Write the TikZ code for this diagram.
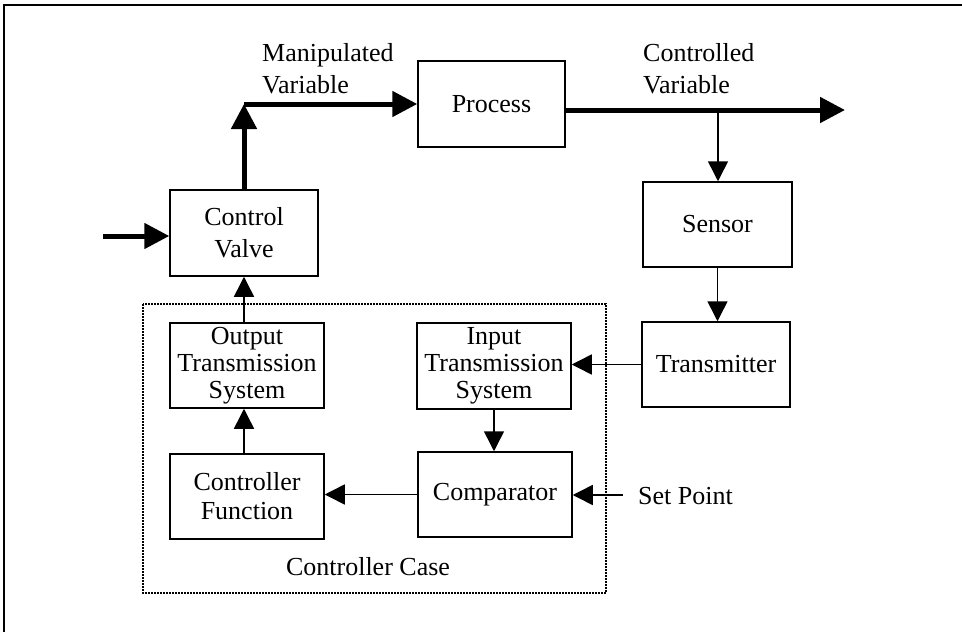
\documentclass[tikz,border=0pt]{standalone}
\usepackage{fontspec}
\setmainfont{Liberation Serif}
\usetikzlibrary{arrows.meta}
\begin{document}
\begin{tikzpicture}[x=1pt,y=-1pt,
  box/.style={draw,line width=1.5pt,inner sep=0pt,align=center,
    font=\fontsize{26}{32}\selectfont},
  thinarrow/.style={line width=1.5pt,-{Triangle[length=20pt,width=20pt]}},
  thickarrow/.style={line width=5pt,-{Triangle[length=25pt,width=25pt]}},
  lbl/.style={inner sep=0pt,font=\fontsize{26}{32}\selectfont}]
\useasboundingbox (0,0) rectangle (962,632);
\draw[line width=2.4pt] (4,640) -- (4,5) -- (970,5);

% blocks
\node[box,minimum width=148pt,minimum height=86pt] (valve) at (244,233) {Control\\Valve};
\node[box,minimum width=147pt,minimum height=86pt] (process) at (491.5,104) {Process};
\node[box,minimum width=149pt,minimum height=85pt] (sensor) at (717.5,224.5) {Sensor};
\node[box,minimum width=148pt,minimum height=85pt] (trans) at (716,364.5) {Transmitter};
\node[box,minimum width=154pt,minimum height=86pt,font=\fontsize{26}{27}\selectfont] (its) at (494,366) {Input\\Transmission\\System};
\node[box,minimum width=154pt,minimum height=85pt] (comp) at (495,494.5) {Comparator};
\node[box,minimum width=154pt,minimum height=85pt,font=\fontsize{26}{27}\selectfont] (ots) at (247,365.5) {Output\\Transmission\\System};
\node[box,minimum width=154pt,minimum height=85pt,font=\fontsize{26}{29}\selectfont] (cf) at (247,496.5) {Controller\\Function};

% controller case
\draw[line width=1.3pt,dash pattern=on 2pt off 1pt] (143,304) rectangle (606,593);
\node[lbl] (caselbl) at (368,567) {Controller Case};

% labels
\node[lbl,anchor=west,align=left] (mvlbl) at (262,69) {Manipulated\\Variable};
\node[lbl,anchor=west,align=left] (cvlbl) at (643,69) {Controlled\\Variable};
\node[lbl,anchor=west] (splbl) at (638,496) {Set Point};

% coordinates
\coordinate (mvc) at (valve.north |- process.west);
\coordinate (cvend) at (845,110);
\coordinate (br) at (718,110);
\coordinate (inflow) at (103,236);
\coordinate (spstart) at (623,495);

% thick flow
\draw[thickarrow] (valve.north) -- (mvc);
\draw[thickarrow] (mvc) -- (process.west);
\draw[thickarrow] (process.east |- cvend) -- (cvend);
\draw[thickarrow] (inflow) -- (inflow -| valve.west);

% signals
\draw[thinarrow] (br) -- (br |- sensor.north);
\draw[thinarrow] (sensor.south) -- (sensor.south |- trans.north);
\draw[thinarrow] (trans.west) -- (trans.west -| its.east);
\draw[thinarrow] (its.south) -- (its.south |- comp.north);
\draw[thinarrow] (spstart) -- (spstart -| comp.east);
\draw[thinarrow] (comp.west) -- (comp.west -| cf.east);
\draw[thinarrow] (valve.south |- cf.north) -- (valve.south |- ots.south);
\draw[thinarrow] (valve.south |- ots.north) -- (valve.south);
\end{tikzpicture}
\end{document}
